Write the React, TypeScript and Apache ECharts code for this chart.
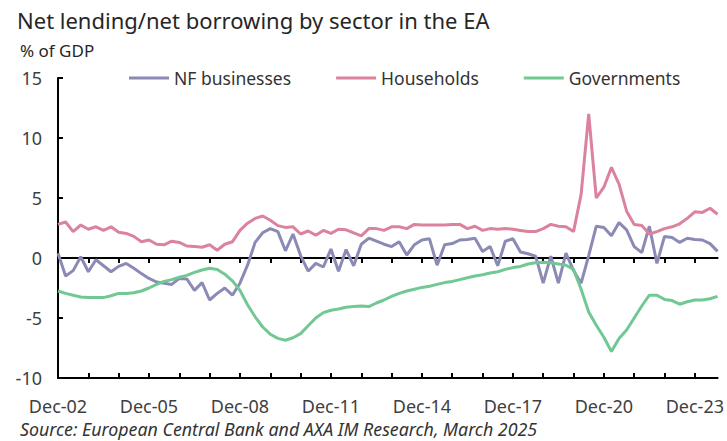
import React, { useEffect, useRef } from "react";
import * as echarts from "echarts";

// Quarterly observations, Dec-02 (Q4 2002) to Sep-24 (Q3 2024)
const quarterMonths = ["Mar", "Jun", "Sep", "Dec"];
const firstYear = 2002;
const nQuarters = 88;
const categories: string[] = [];
for (let i = 0; i < nQuarters; i++) {
  const q = (3 + i) % 4;
  const y = firstYear + Math.floor((3 + i) / 4);
  categories.push(`${quarterMonths[q]}-${String(y % 100).padStart(2, "0")}`);
}

const seriesNames = ["NF businesses", "Households", "Governments"];

const nfBusinesses = [
  0.4, -1.5, -1.05, 0.1, -1.15, -0.15, -0.65, -1.15, -0.7, -0.45,
  -0.85, -1.3, -1.7, -2.0, -2.1, -2.2, -1.7, -1.75, -2.7, -2.05,
  -3.5, -2.95, -2.5, -3.1, -2.1, -0.6, 1.3, 2.1, 2.45, 2.2,
  0.6, 2.0, 0.2, -1.1, -0.45, -0.75, 0.75, -1.1, 0.7, -0.65,
  1.15, 1.65, 1.4, 1.15, 0.95, 1.35, 0.25, 1.1, 1.5, 1.6,
  -0.6, 1.1, 1.2, 1.5, 1.55, 1.65, 0.55, 0.95, -0.65, 1.4,
  1.6, 0.5, 0.35, 0.15, -2.1, 0.15, -2.1, 0.4, -1.05, -2.1,
  0.2, 2.65, 2.55, 1.85, 2.95, 2.35, 0.95, 0.45, 2.65, -0.45,
  1.8, 1.7, 1.3, 1.65, 1.55, 1.5, 1.2, 0.55,
];

const households = [
  2.8, 3.0, 2.2, 2.75, 2.4, 2.6, 2.3, 2.6, 2.15, 2.05,
  1.8, 1.35, 1.5, 1.15, 1.1, 1.4, 1.3, 1.0, 0.95, 0.9,
  1.1, 0.65, 1.15, 1.35, 2.3, 2.9, 3.3, 3.5, 3.15, 2.7,
  2.55, 2.6, 2.0, 2.25, 1.9, 2.3, 2.05, 2.4, 2.35, 2.1,
  1.85, 2.45, 2.45, 2.3, 2.6, 2.6, 2.45, 2.8, 2.75, 2.75,
  2.75, 2.75, 2.8, 2.8, 2.45, 2.65, 2.3, 2.45, 2.4, 2.45,
  2.4, 2.3, 2.2, 2.2, 2.45, 2.8, 2.65, 2.6, 2.2, 5.3,
  12.0, 5.0, 5.9, 7.55, 6.15, 3.9, 2.8, 2.7, 2.0, 2.2,
  2.45, 2.6, 2.85, 3.3, 3.85, 3.8, 4.15, 3.65,
];

const governments = [
  -2.75, -2.95, -3.1, -3.25, -3.3, -3.3, -3.3, -3.15, -2.95, -2.95,
  -2.9, -2.75, -2.5, -2.2, -1.95, -1.8, -1.6, -1.45, -1.2, -1.0,
  -0.85, -0.95, -1.35, -1.9, -2.7, -3.9, -4.9, -5.75, -6.35, -6.7,
  -6.85, -6.65, -6.3, -5.65, -5.0, -4.55, -4.35, -4.25, -4.1, -4.05,
  -4.0, -4.05, -3.75, -3.5, -3.2, -2.95, -2.75, -2.6, -2.45, -2.35,
  -2.2, -2.05, -1.95, -1.8, -1.65, -1.5, -1.4, -1.25, -1.15, -0.95,
  -0.8, -0.7, -0.5, -0.4, -0.35, -0.4, -0.5, -0.6, -0.95, -2.6,
  -4.5, -5.6, -6.6, -7.8, -6.7, -6.0, -5.0, -4.0, -3.1, -3.1,
  -3.45, -3.55, -3.85, -3.65, -3.5, -3.5, -3.4, -3.2,
];

const seriesData = [nfBusinesses, households, governments];
const seriesColors = ["#8B8AB5", "#DB829E", "#71C893"];

const titleText = "Net lending/net borrowing by sector in the EA";
const unitText = "% of GDP";
const sourceText = "Source: European Central Bank and AXA IM Research, March 2025";

const FONT = "Noto Sans";

export default function App() {
  const ref = useRef<HTMLDivElement>(null);

  useEffect(() => {
    if (!ref.current) return;
    const chart = echarts.init(ref.current, undefined, { renderer: "svg" });
    const tickLine = { color: "#000", width: 2 };
    chart.setOption({
      animation: false,
      textStyle: { fontFamily: FONT },
      title: {
        text: titleText,
        left: 12,
        top: 4,
        textStyle: { fontSize: 22, fontWeight: "normal", color: "#262626", fontFamily: FONT },
      },
      legend: {
        left: 124,
        top: 64,
        icon: "rect",
        itemWidth: 40,
        itemHeight: 3,
        itemGap: 45,
        textStyle: { fontSize: 17.5, color: "#333", fontFamily: FONT },
        data: seriesNames,
      },
      grid: { left: 58, right: 9, top: 78, bottom: 63, containLabel: false },
      xAxis: [
        {
          type: "category",
          data: categories,
          boundaryGap: false,
          position: "bottom",
          axisLine: { show: false, onZero: false },
          axisTick: { show: false },
          splitLine: { show: false },
          axisLabel: { interval: 11, fontSize: 18, color: "#404040", margin: 19, fontFamily: FONT },
        },
        {
          type: "category",
          data: categories,
          boundaryGap: false,
          position: "bottom",
          axisLine: { show: true, onZero: true, lineStyle: tickLine },
          axisTick: { show: true, interval: 3, length: 5, lineStyle: tickLine },
          splitLine: { show: false },
          axisLabel: { show: false },
        },
        {
          type: "category",
          data: categories,
          boundaryGap: false,
          position: "bottom",
          axisLine: { show: true, onZero: true, lineStyle: tickLine },
          axisTick: { show: true, inside: true, interval: 3, length: 5, lineStyle: tickLine },
          splitLine: { show: false },
          axisLabel: { show: false },
        },
      ],
      yAxis: {
        type: "value",
        min: -10,
        max: 15,
        interval: 5,
        axisLine: { show: true, lineStyle: { color: "#000", width: 2 } },
        axisTick: { show: true, inside: true, length: 5, lineStyle: tickLine },
        splitLine: { show: false },
        axisLabel: { fontSize: 18, color: "#404040", margin: 16, fontFamily: FONT },
      },
      graphic: [
        {
          type: "text",
          left: 20,
          top: 42,
          style: { text: unitText, fontSize: 17, fill: "#262626", fontFamily: FONT },
        },
        {
          type: "text",
          left: 20,
          top: 420,
          style: { text: sourceText, fontSize: 17.8, fontStyle: "italic", fill: "#333", fontFamily: FONT },
        },
      ],
      series: seriesNames.map((name, k) => ({
        type: "line",
        name,
        data: seriesData[k],
        xAxisIndex: 0,
        showSymbol: false,
        symbol: "none",
        lineStyle: { width: 3, color: seriesColors[k] },
        itemStyle: { color: seriesColors[k] },
      })),
    });
    return () => chart.dispose();
  }, []);

  return (
    <div
      ref={ref}
      style={{ position: "absolute", left: 0, top: 0, width: 727, height: 441, background: "#fff" }}
    />
  );
}
